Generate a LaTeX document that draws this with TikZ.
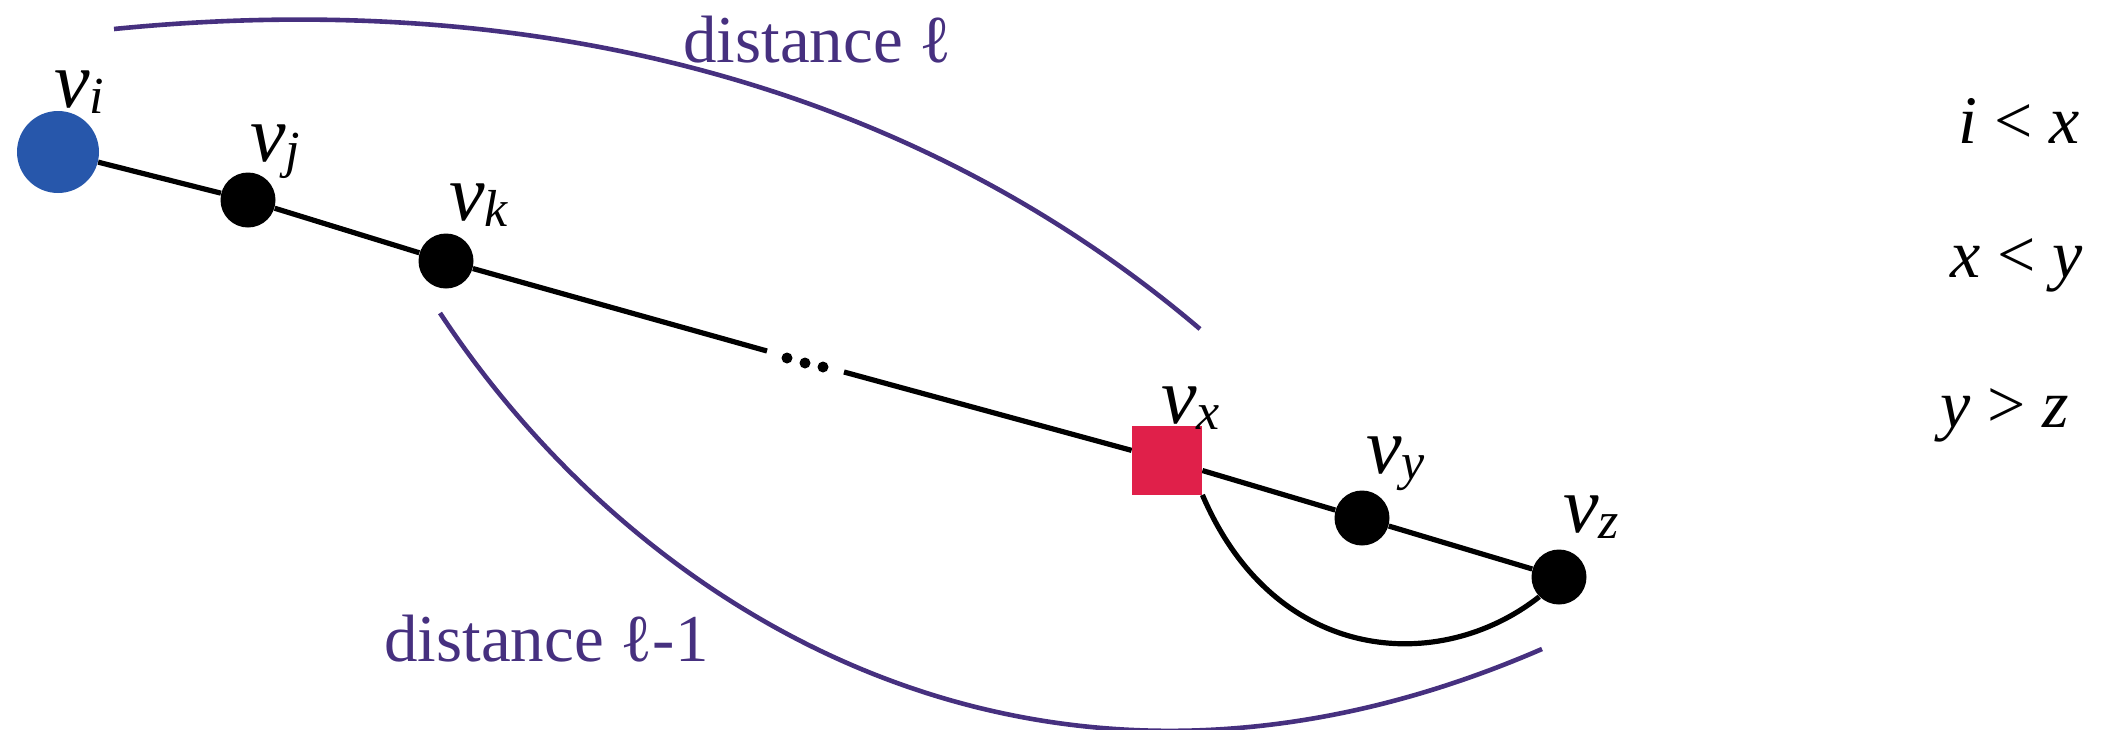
\documentclass[tikz,border=0pt]{standalone}
\usepackage{fontspec}
\setmainfont{Liberation Serif}
\usetikzlibrary{backgrounds}
\definecolor{pblue}{HTML}{2757AB}
\definecolor{pred}{HTML}{E0204A}
\definecolor{ppurple}{HTML}{46307F}
\newcommand\vlab[1]{\textit{v}\raisebox{-3pt}{\fontsize{26}{26}\selectfont\textit{#1}}}
\begin{document}
\begin{tikzpicture}[x=0.5pt,y=-0.5pt,
  dotnode/.style={circle,fill=black,inner sep=0pt,minimum size=27.5pt},
  bignode/.style={circle,fill=pblue,inner sep=0pt,minimum size=41pt},
  sqnode/.style={rectangle,fill=pred,inner sep=0pt,minimum width=35pt,minimum height=34.5pt},
  tinydot/.style={circle,fill=black,inner sep=0pt,minimum size=5.5pt},
  edgeline/.style={line width=2.6pt,black},
  arcline/.style={line width=2.3pt,ppurple},
  lab/.style={anchor=base west,inner sep=0pt,font=\fontsize{40}{40}\selectfont},
  dist/.style={anchor=base west,inner sep=0pt,text=ppurple,font=\fontsize{33.5}{33.5}\selectfont},
  rel/.style={anchor=base west,inner sep=0pt,font=\fontsize{34}{34}\selectfont}]
\useasboundingbox (0,0) rectangle (2116,729);

% vertices
\node[bignode] (vi) at (58,152) {};
\node[dotnode] (vj) at (248,200) {};
\node[dotnode] (vk) at (446,261) {};
\node[sqnode]  (vx) at (1167,460) {};
\node[dotnode] (vy) at (1362,518) {};
\node[dotnode] (vz) at (1559,577) {};
\node[tinydot] (d1) at (787,358) {};
\node[tinydot] (d2) at (805,363) {};
\node[tinydot] (d3) at (823,367) {};
\coordinate (gapA) at (767,351);
\coordinate (gapB) at (844,372);

% edges
\begin{scope}[on background layer]
\draw[edgeline] (vi) -- (vj) -- (vk) -- (gapA);
\draw[edgeline] (gapB) -- (vx) -- (vy) -- (vz);
\draw[edgeline] (vx.south east) .. controls (1275,665) and (1440,675) .. (vz.225);
\end{scope}

% distance arcs
\coordinate (t0) at (114,29);
\coordinate (t1) at (1200,329);
\draw[arcline] (t0) .. controls (514,-11) and (900,74) .. (t1);
\coordinate (b0) at (440,313);
\coordinate (b1) at (1542,649);
\draw[arcline] (b0) .. controls (640,616) and (1042,866) .. (b1);

% labels
\node[lab] (li) at (54,107) {\vlab{i}};
\node[lab] (lj) at (250,161) {\vlab{j}};
\node[lab] (lk) at (449,220) {\vlab{k}};
\node[lab] (lx) at (1161,423) {\vlab{x}};
\node[lab] (ly) at (1366,473) {\vlab{y}};
\node[lab] (lz) at (1563,532) {\vlab{z}};

\node[dist] (dl) at (683,62) {distance ℓ};
\node[dist] (dl1) at (384,661) {distance ℓ-1};

\node[rel] (r1) at (1958,143) {\textit{i} {<} \textit{x}};
\node[rel] (r2) at (1950,277) {\textit{x} {<} \textit{y}};
\node[rel] (r3) at (1940,427) {\textit{y} {>} \textit{z}};
\end{tikzpicture}
\end{document}
